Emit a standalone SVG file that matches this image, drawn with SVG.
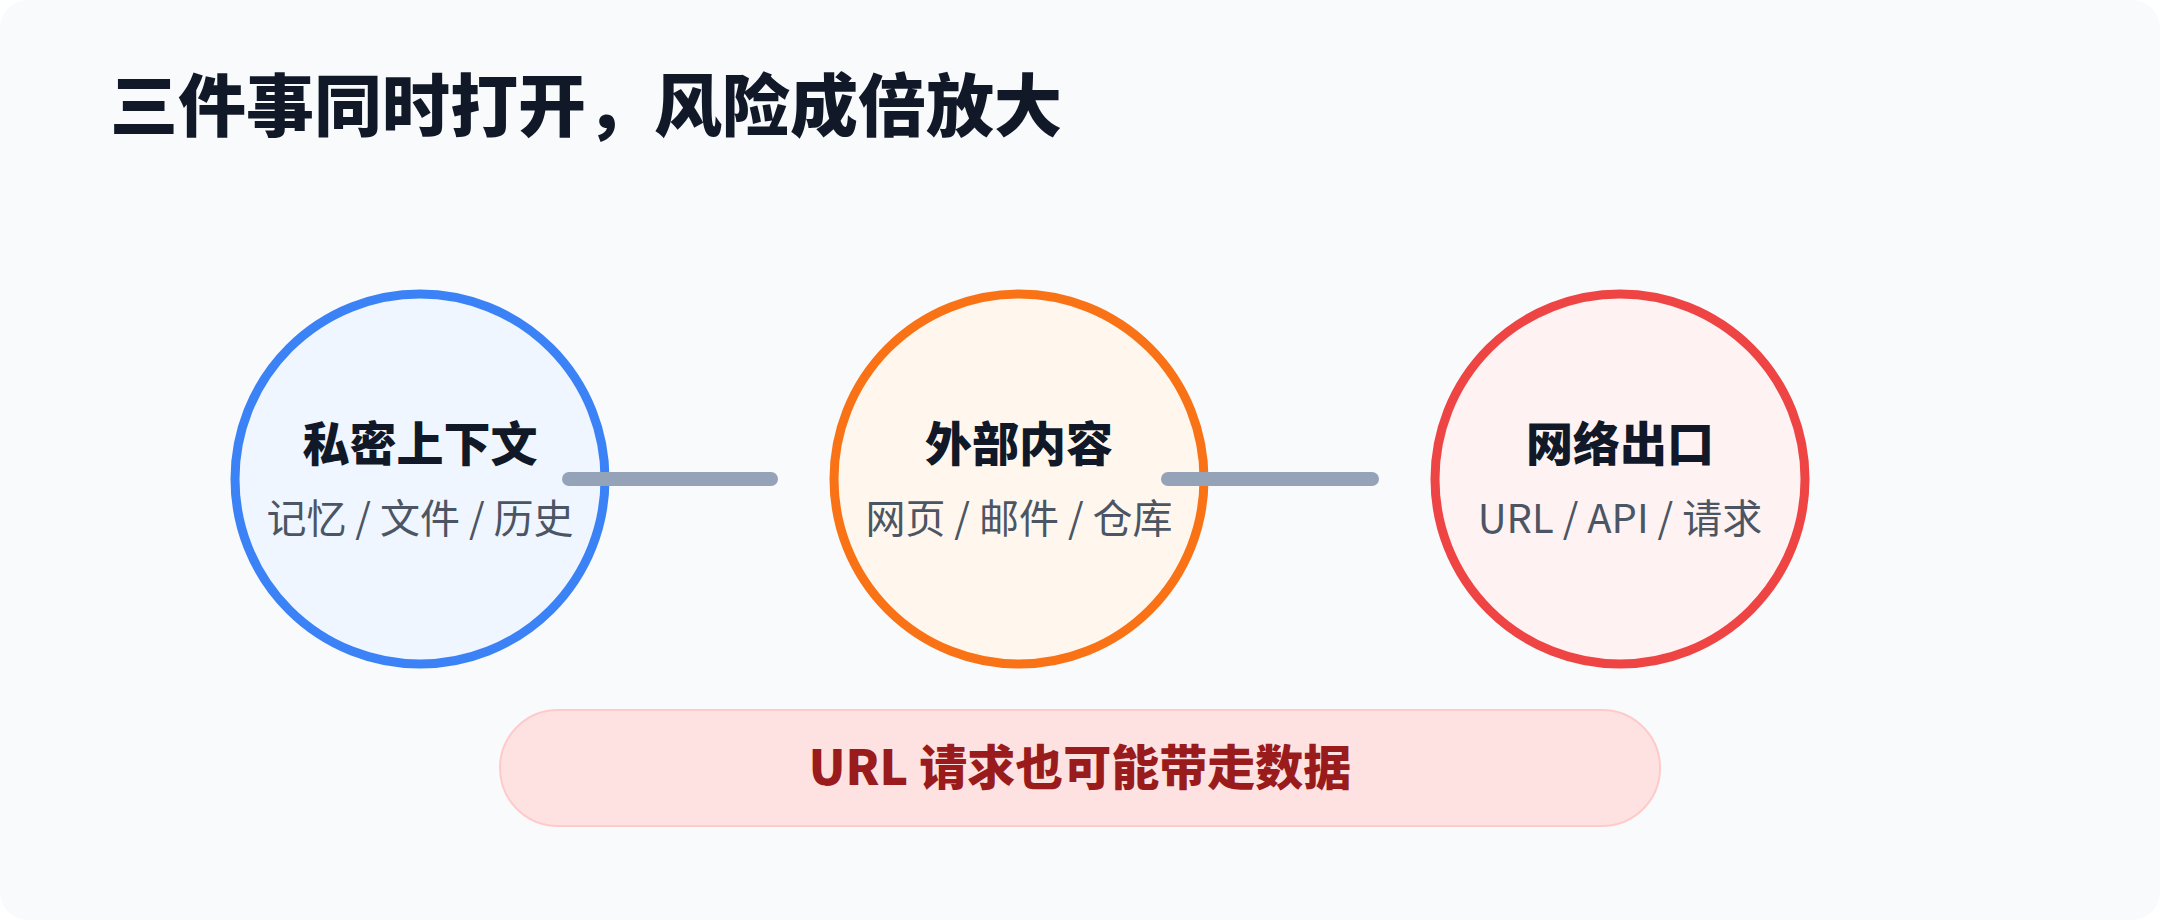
<svg xmlns="http://www.w3.org/2000/svg" width="2160" height="920" viewBox="0 0 2160 920">
<style>
.t{font-family:"Noto Sans CJK SC","Noto Sans",sans-serif;text-anchor:middle}
.h{font-weight:900;font-size:47px;fill:#111827}
.s{font-size:40px;fill:#4b5563}
.c{stroke-width:9}
.ln{stroke:#94a3b8;stroke-width:14;stroke-linecap:round}
</style>
<rect x="0" y="0" width="2160" height="920" rx="28" fill="#f8fafc"/>
<text x="110" y="131" font-family="Noto Sans CJK SC,sans-serif" font-weight="900" font-size="68" fill="#111827">三件事同时打开，风险成倍放大</text>
<g id="n1">
<circle class="c" cx="420" cy="479" r="185" fill="#eff6ff" stroke="#3b82f6"/>
<text class="t h" x="420" y="461">私密上下文</text>
<text class="t s" x="420" y="533">记忆 / 文件 / 历史</text>
</g>
<g id="n2">
<circle class="c" cx="1019" cy="479" r="185" fill="#fff7ed" stroke="#f97316"/>
<text class="t h" x="1019" y="461">外部内容</text>
<text class="t s" x="1019" y="533">网页 / 邮件 / 仓库</text>
</g>
<g id="n3">
<circle class="c" cx="1620" cy="479" r="185" fill="#fef2f2" stroke="#ef4444"/>
<text class="t h" x="1620" y="461">网络出口</text>
<text class="t s" x="1620" y="533">URL / API / 请求</text>
</g>
<g id="connectors">
<line class="ln" x1="569" y1="479" x2="771" y2="479"/>
<line class="ln" x1="1168" y1="479" x2="1372" y2="479"/>
</g>
<g id="note">
<rect x="500" y="710" width="1160" height="116" rx="58" fill="#fee2e2" stroke="#fecaca" stroke-width="2"/>
<text class="t" x="1080" y="785" font-weight="900" font-size="48" fill="#991b1b">URL 请求也可能带走数据</text>
</g>
</svg>
